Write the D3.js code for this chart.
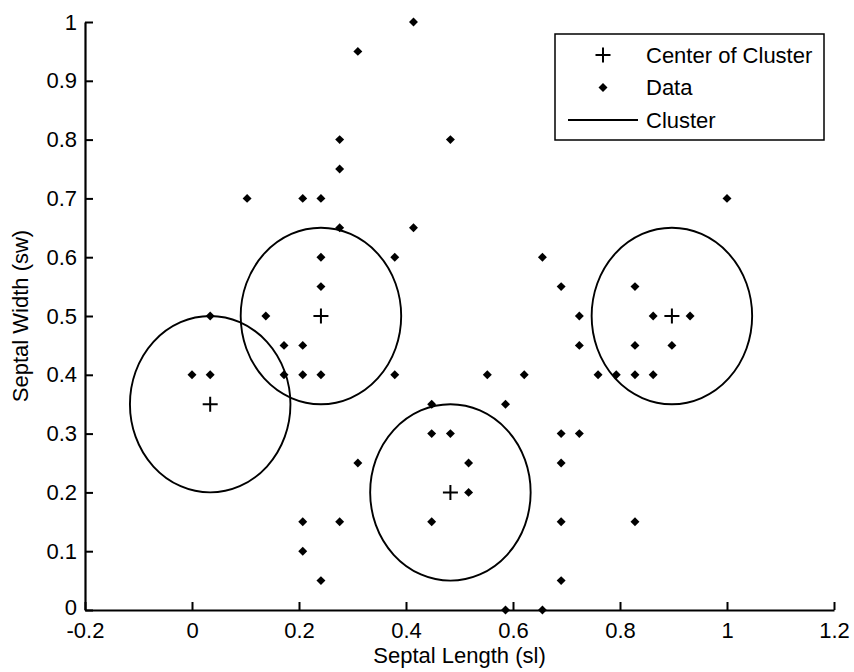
<!DOCTYPE html>
<html>
<head>
<meta charset="utf-8">
<script src="https://cdn.jsdelivr.net/npm/d3@7"></script>
<style>
  body { margin: 0; background: #fff; }
  text { font-family: "Liberation Sans", Arial, sans-serif; }
</style>
</head>
<body>
<script>
(function () {

// data points, sepal length (x) / sepal width (y), normalised
var dataX = [0.414, 0.310, 0.276, 0.483, 0.276, 0.103, 0.207, 0.241, 1.000, 0.276,
             0.414, 0.241, 0.379, 0.655, 0.241, 0.690, 0.828, 0.034, 0.138, 0.724,
             0.862, 0.931, 0.172, 0.207, 0.724, 0.828, 0.897, 0.000, 0.034, 0.172,
             0.207, 0.241, 0.379, 0.552, 0.621, 0.759, 0.793, 0.828, 0.862, 0.448,
             0.586, 0.448, 0.483, 0.690, 0.724, 0.310, 0.517, 0.690, 0.517, 0.207,
             0.276, 0.448, 0.690, 0.828, 0.207, 0.241, 0.690, 0.586, 0.655]
var dataY = [1.00, 0.95, 0.80, 0.80, 0.75, 0.70, 0.70, 0.70, 0.70, 0.65,
             0.65, 0.60, 0.60, 0.60, 0.55, 0.55, 0.55, 0.50, 0.50, 0.50,
             0.50, 0.50, 0.45, 0.45, 0.45, 0.45, 0.45, 0.40, 0.40, 0.40,
             0.40, 0.40, 0.40, 0.40, 0.40, 0.40, 0.40, 0.40, 0.40, 0.35,
             0.35, 0.30, 0.30, 0.30, 0.30, 0.25, 0.25, 0.25, 0.20, 0.15,
             0.15, 0.15, 0.15, 0.15, 0.10, 0.05, 0.05, 0.00, 0.00]

// cluster centres and radius
var centerX = [0.034, 0.241, 0.483, 0.897]
var centerY = [0.35, 0.50, 0.20, 0.50]
var clusterR = [0.15, 0.15, 0.15, 0.15]

var xTicks = [-0.2, 0, 0.2, 0.4, 0.6, 0.8, 1, 1.2]
var xTickLabels = ["-0.2", "0", "0.2", "0.4", "0.6", "0.8", "1", "1.2"]
var yTicks = [0, 0.1, 0.2, 0.3, 0.4, 0.5, 0.6, 0.7, 0.8, 0.9, 1]
var yTickLabels = ["0", "0.1", "0.2", "0.3", "0.4", "0.5", "0.6", "0.7", "0.8", "0.9", "1"]

var legendLabels = ["Center of Cluster", "Data", "Cluster"]

var width = 854,
    height = 672,
    left = 85, right = 834, top = 22, bottom = 610,
    fontSize = 22;

var svg = d3.select("body")
  .append("svg")
  .attr("width", width)
  .attr("height", height)

svg.append("rect").attr("width", width).attr("height", height).attr("fill", "#fff")

var x = d3.scaleLinear().domain([-0.2, 1.2]).range([left, right])
var y = d3.scaleLinear().domain([0, 1]).range([bottom, top])

var points = dataX.map(function(d, i) { return { x: d, y: dataY[i] } })
var centers = centerX.map(function(d, i) { return { x: d, y: centerY[i], r: clusterR[i] } })

// clusters (circles in data units -> ellipses on screen)
svg.append("g").selectAll("ellipse")
  .data(centers)
  .enter().append("ellipse")
  .attr("cx", function(d) { return x(d.x) })
  .attr("cy", function(d) { return y(d.y) })
  .attr("rx", function(d) { return x(d.r) - x(0) })
  .attr("ry", function(d) { return y(0) - y(d.r) })
  .attr("fill", "none")
  .attr("stroke", "#000")
  .attr("stroke-width", 1.9)

var diamond = d3.symbol().type(d3.symbolSquare).size(40)
var plusPath = "M-7.5,0H7.5M0,-7.5V7.5"

svg.append("g").selectAll("path")
  .data(points)
  .enter().append("path")
  .attr("d", diamond)
  .attr("transform", function(d) { return "translate(" + x(d.x) + "," + y(d.y) + ") rotate(45)" })
  .attr("fill", "#000")

svg.append("g").selectAll("path")
  .data(centers)
  .enter().append("path")
  .attr("d", plusPath)
  .attr("transform", function(d) { return "translate(" + x(d.x) + "," + y(d.y) + ")" })
  .attr("stroke", "#000")
  .attr("stroke-width", 2)

// axes
var xAxis = d3.axisBottom(x)
  .tickValues(xTicks)
  .tickFormat(function(d, i) { return xTickLabels[i] })
  .tickSizeInner(-8)
  .tickSizeOuter(0)
  .tickPadding(12)

var yAxis = d3.axisLeft(y)
  .tickValues(yTicks)
  .tickFormat(function(d, i) { return yTickLabels[i] })
  .tickSizeInner(-8)
  .tickSizeOuter(0)
  .tickPadding(8)

var gx = svg.append("g")
  .attr("transform", "translate(0," + bottom + ")")
  .call(xAxis)

var gy = svg.append("g")
  .attr("transform", "translate(" + left + ",0)")
  .call(yAxis)

svg.selectAll(".domain").attr("stroke", "#000").attr("stroke-width", 2.2)
svg.selectAll(".tick line").attr("stroke", "#000").attr("stroke-width", 2)
svg.selectAll(".tick text")
  .attr("fill", "#000")
  .style("font-size", fontSize + "px")
  .style("font-family", "'Liberation Sans', Arial, sans-serif")

// the y "0" sits just above the x "-0.2", as in the original
gy.selectAll(".tick text").filter(function(d) { return d === 0 }).attr("dy", "0.2em")

svg.append("text")
  .attr("x", (left + right) / 2)
  .attr("y", 663)
  .attr("text-anchor", "middle")
  .style("font-size", fontSize + "px")
  .text("Septal Length (sl)")

svg.append("text")
  .attr("transform", "translate(28," + ((top + bottom) / 2) + ") rotate(-90)")
  .attr("text-anchor", "middle")
  .style("font-size", fontSize + "px")
  .text("Septal Width (sw)")

// legend
var legend = svg.append("g").attr("transform", "translate(555,34)")

legend.append("rect")
  .attr("width", 269)
  .attr("height", 106)
  .attr("fill", "#fff")
  .attr("stroke", "#000")
  .attr("stroke-width", 1.5)

var rows = legend.selectAll("g.row")
  .data(legendLabels)
  .enter().append("g")
  .attr("class", "row")
  .attr("transform", function(d, i) { return "translate(0," + (21 + i * 32.5) + ")" })

rows.append("text")
  .attr("x", 91)
  .attr("dy", "0.36em")
  .style("font-size", fontSize + "px")
  .text(function(d) { return d })

rows.filter(function(d, i) { return i === 0 })
  .append("path")
  .attr("d", plusPath)
  .attr("transform", "translate(48,0)")
  .attr("stroke", "#000")
  .attr("stroke-width", 2)

rows.filter(function(d, i) { return i === 1 })
  .append("path")
  .attr("d", diamond)
  .attr("transform", "translate(48,0) rotate(45)")
  .attr("fill", "#000")

rows.filter(function(d, i) { return i === 2 })
  .append("line")
  .attr("x1", 13)
  .attr("x2", 83)
  .attr("stroke", "#000")
  .attr("stroke-width", 1.8)

}) ()
</script>
</body>
</html>
